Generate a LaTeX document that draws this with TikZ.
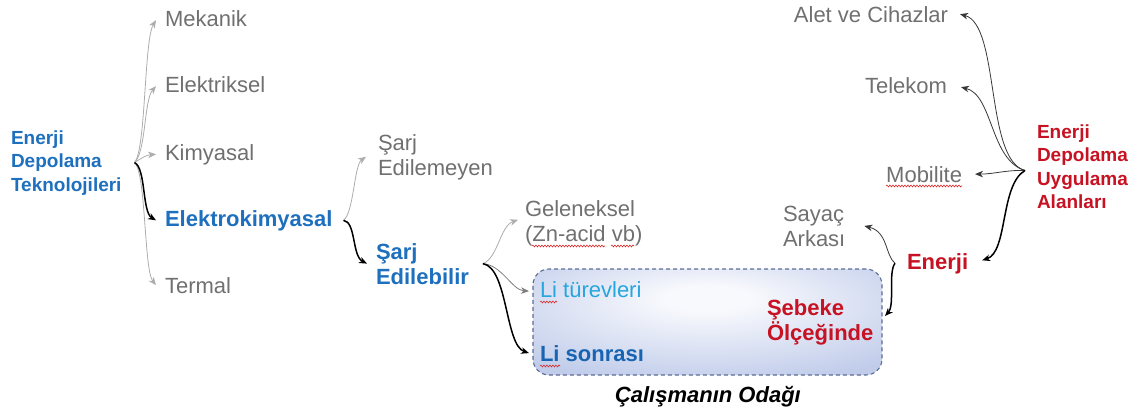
\documentclass[tikz,border=0pt]{standalone}
\usepackage{fontspec}
\setmainfont{Liberation Sans}
\usetikzlibrary{arrows.meta,decorations.pathmorphing}
\definecolor{txtgray}{RGB}{112,112,112}
\definecolor{tblue}{RGB}{30,112,190}
\definecolor{lblue}{RGB}{38,165,222}
\definecolor{dblue}{RGB}{24,100,178}
\definecolor{tred}{RGB}{198,18,34}
\definecolor{boxblue}{RGB}{192,204,234}
\definecolor{boxin}{RGB}{248,249,253}
\definecolor{boxline}{RGB}{92,108,150}
\definecolor{arrgray}{RGB}{172,172,172}
\definecolor{midgray}{RGB}{125,125,125}
\definecolor{darkline}{RGB}{55,55,55}
\definecolor{squigred}{RGB}{220,40,40}
\pgfdeclareradialshading{focusshade}{\pgfpoint{0bp}{12bp}}{color(0bp)=(boxin); color(6bp)=(boxin); color(36bp)=(boxblue); color(80bp)=(boxblue)}
\begin{document}
\begin{tikzpicture}[x=1pt,y=-1pt,
  every node/.style={inner sep=0pt,outer sep=0pt},
  lbl/.style={font={\fontsize{22}{25}\selectfont}, align=left, anchor=base west},
  glbl/.style={lbl, text=txtgray},
  blbl/.style={lbl, font={\fontsize{22}{25}\selectfont\bfseries}, text=tblue},
  rlbl/.style={lbl, font={\fontsize{22}{25}\selectfont\bfseries}, text=tred},
  ttl/.style={font={\fontsize{19}{23.5}\selectfont\bfseries}, align=left, anchor=base west},
  tip/.style={-{Stealth[length=8pt,width=6.5pt,inset=2.5pt]}},
  garr/.style={tip, line width=0.8pt, draw=arrgray},
  marr/.style={tip, line width=0.8pt, draw=midgray},
  darr/.style={tip, line width=0.8pt, draw=darkline},
  karr/.style={tip, line width=1.5pt, draw=black},
  focusbox/.style={shade, shading=focusshade, draw=boxline, line width=1.1pt,
    dash pattern=on 4pt off 3pt, rounded corners=16pt,
    minimum width=349pt, minimum height=106pt},
  squig/.style={decorate, decoration={snake, amplitude=0.9pt, segment length=3pt},
    draw=squigred, line width=0.6pt}
]
\useasboundingbox (0,0) rectangle (1140,415);

% focus box
\node[focusbox] (focus) at (707.5,322) {};

% left tree (multi-line nodes: base = last line's baseline)
\node[ttl, text=tblue] (tech) at (11,191) {Enerji\\Depolama\\Teknolojileri};
\node[glbl] (mek) at (165,26) {Mekanik};
\node[glbl] (ele) at (165,92) {Elektriksel};
\node[glbl] (kim) at (165,160) {Kimyasal};
\node[blbl] (ekim) at (165,226) {Elektrokimyasal};
\node[glbl] (ter) at (165,293) {Termal};
\node[glbl] (sarjE) at (378,175) {Şarj\\Edilemeyen};
\node[blbl] (sarjB) at (376,284) {Şarj\\Edilebilir};
\node[glbl] (gel) at (525,241) {Geleneksel\\(Zn-acid vb)};
\node[lbl, text=lblue] (litur) at (540,297) {Li türevleri};
\node[blbl, text=dblue] (lison) at (540,361) {Li sonrası};
\node[rlbl] (seb) at (767,340) {Şebeke\\Ölçeğinde};
\node[lbl, font={\fontsize{22}{25}\selectfont\bfseries\itshape}, text=black] (cal) at (615,402) {Çalışmanın Odağı};

% right tree
\node[glbl, anchor=base east] (alet) at (948,22) {Alet ve Cihazlar};
\node[glbl, anchor=base east] (tel) at (947,93) {Telekom};
\node[glbl, anchor=base east] (mob) at (962,182) {Mobilite};
\node[ttl, text=tred] (eapp) at (1037,208.5) {Enerji\\Depolama\\Uygulama\\Alanları};
\node[glbl] (sayac) at (783,246) {Sayaç\\Arkası};
\node[rlbl] (en) at (907,269) {Enerji};

% branch points
\coordinate (b1) at ([xshift=13pt]tech.east);
\coordinate (b2) at ([xshift=11pt]ekim.east);
\coordinate (b3) at ([xshift=14pt]sarjB.east);
\coordinate (b4) at ([xshift=-12pt,yshift=-4pt]eapp.west);
\coordinate (b5) at ([xshift=-12pt]en.west);

% left connectors
\draw[garr] (b1) .. controls (146,150) and (144,40) .. ([xshift=-9pt,yshift=-2pt]mek.west);
\draw[garr] (b1) .. controls (146,152) and (144,100) .. ([xshift=-9pt,yshift=-2pt]ele.west);
\draw[garr] (b1) .. controls (142,158) and (146,155) .. ([xshift=-9pt]kim.west);
\draw[garr] (b1) .. controls (146,172) and (144,270) .. ([xshift=-9pt]ter.west);
\draw[karr] (b1) .. controls (146,168) and (142,212) .. ([xshift=-9pt]ekim.west);

\draw[garr] (b2) .. controls (354,212) and (354,165) .. ([xshift=-12pt]sarjE.west);
\draw[karr] (b2) .. controls (356,222) and (352,256) .. ([xshift=-9pt]sarjB.west);

\draw[garr] (b3) .. controls (498,258) and (500,226) .. ([xshift=-7pt,yshift=3pt]gel.west);
\draw[marr] (b3) .. controls (502,265) and (512,290) .. ([xshift=-11pt,yshift=-2pt]litur.west);
\draw[karr] (b3) .. controls (508,268) and (505,345) .. ([xshift=-11pt]lison.west);

% right connectors
\draw[darr] (b4) .. controls (985,160) and (1000,25) .. ([xshift=12pt]alet.east);
\draw[darr] (b4) .. controls (990,160) and (993,95) .. ([xshift=14pt,yshift=-2pt]tel.east);
\draw[darr] (b4) .. controls (1005,170) and (995,174) .. ([xshift=13pt]mob.east);
\draw[karr] (b4) .. controls (1000,185) and (1008,252) .. ([xshift=14pt,yshift=3pt]en.east);

\draw[darr] (b5) .. controls (885,255) and (888,232) .. ([xshift=19pt]sayac.east);
\draw[karr] (b5) .. controls (888,272) and (895,305) .. ([xshift=3pt,yshift=6pt]focus.east);

% spell-check underlines
\draw[squig] (532,246) -- (605,246);
\draw[squig] (611,246) -- (634,246);
\draw[squig] (540,302) -- (557,302);
\draw[squig] (540,366) -- (560,366);
\draw[squig] (886,186) -- (962,186);
\end{tikzpicture}
\end{document}
